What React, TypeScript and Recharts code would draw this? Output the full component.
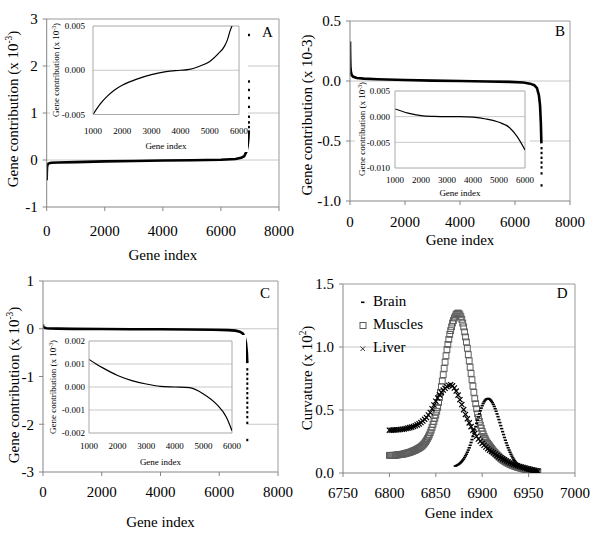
import React from 'react';
import { ComposedChart, Line, Scatter, XAxis, YAxis, ReferenceLine, Label, Legend } from 'recharts';

const FONT = '"Liberation Serif", "Times New Roman", serif';
const AXIS = '#858585';
const GRID = '#c8c8c8';
const FRAME = '#9a9a9a';

// ---------- Panel A (main) ----------
const A_X = [0, 3, 8, 15, 30, 60, 150, 400, 1000, 2000, 3000, 4000, 5000, 6000, 6500, 6700, 6800, 6880, 6920, 6945, 6960];
const A_Y = [-0.43, -0.3, -0.2, -0.14, -0.1, -0.075, -0.06, -0.052, -0.045, -0.03, -0.02, -0.012, -0.005, 0.005, 0.02, 0.045, 0.08, 0.18, 0.3, 0.45, 0.63];
const A_TAIL_X = [6965, 6965, 6965, 6965, 6965, 6965, 6965, 6965];
const A_TAIL_Y = [0.7, 0.8, 0.92, 1.13, 1.32, 1.49, 1.67, 2.66];
// Panel A inset
const AI_X = [1000, 1250, 1500, 1750, 2000, 2500, 3000, 3500, 4000, 4300, 4600, 5000, 5300, 5500, 5600, 5700, 5760];
const AI_Y = [-0.005, -0.0038, -0.0029, -0.0022, -0.0017, -0.001, -0.0005, -0.00015, 0, 0.0001, 0.0004, 0.001, 0.0019, 0.0027, 0.0034, 0.0045, 0.005];

// ---------- Panel B (main) ----------
const B_X = [0, 3, 8, 15, 30, 60, 120, 250, 500, 1000, 2000, 3000, 4000, 5000, 5800, 6300, 6550, 6700, 6800, 6870, 6910, 6940, 6960];
const B_Y = [0.33, 0.25, 0.18, 0.12, 0.08, 0.05, 0.035, 0.025, 0.02, 0.015, 0.008, 0.003, 0.0, -0.004, -0.007, -0.012, -0.022, -0.035, -0.06, -0.12, -0.2, -0.35, -0.52];
const B_TAIL_X = [6965, 6965, 6965, 6965, 6965, 6965, 6965];
const B_TAIL_Y = [-0.56, -0.6, -0.64, -0.68, -0.72, -0.77, -0.87];
// Panel B inset
const BI_X = [1000, 1500, 2000, 2500, 3000, 3500, 4000, 4500, 5000, 5400, 5700, 6000];
const BI_Y = [0.0015, 0.0007, 0.0002, 0.00005, 0, 0, -0.0001, -0.00045, -0.0011, -0.0021, -0.0039, -0.0065];

// ---------- Panel C (main) ----------
const C_X = [0, 3, 8, 15, 30, 60, 120, 250, 500, 1000, 2000, 3000, 4000, 5000, 5800, 6300, 6550, 6700, 6800, 6870, 6910, 6940, 6955];
const C_Y = [0.09, 0.07, 0.055, 0.04, 0.03, 0.02, 0.012, 0.006, 0.002, -0.002, -0.006, -0.009, -0.012, -0.015, -0.02, -0.028, -0.04, -0.06, -0.1, -0.18, -0.3, -0.5, -0.72];
const C_TAIL_X = [6955, 6955, 6955, 6955, 6955, 6955, 6955, 6955, 6955, 6955, 6955, 6955, 6955];
const C_TAIL_Y = [-0.85, -0.95, -1.05, -1.15, -1.25, -1.35, -1.45, -1.55, -1.65, -1.75, -1.85, -1.97, -2.33];
// Panel C inset
const CI_X = [1000, 1250, 1500, 2000, 2500, 3000, 3500, 4000, 4500, 5000, 5500, 5800, 6000];
const CI_Y = [0.0012, 0.001, 0.00082, 0.0005, 0.00028, 0.00013, 0.00003, 0, -0.00003, -0.0003, -0.0008, -0.0013, -0.0019];

// ---------- Panel D ----------
const MUSCLES_START = 6800; // one value per gene index
const MUSCLES_Y = [
  0.14, 0.14, 0.14, 0.14, 0.14, 0.14, 0.14, 0.142, 0.143, 0.144,
  0.145, 0.146, 0.147, 0.148, 0.149, 0.15, 0.152, 0.154, 0.156, 0.158,
  0.16, 0.162, 0.164, 0.167, 0.17, 0.173, 0.176, 0.179, 0.182, 0.186,
  0.19, 0.194, 0.198, 0.203, 0.208, 0.214, 0.221, 0.229, 0.238, 0.248,
  0.26, 0.273, 0.287, 0.302, 0.32, 0.34, 0.362, 0.386, 0.41, 0.435,
  0.46, 0.49, 0.52, 0.56, 0.6, 0.64, 0.685, 0.73, 0.78, 0.83,
  0.88, 0.93, 0.98, 1.02, 1.06, 1.1, 1.13, 1.16, 1.19, 1.21,
  1.23, 1.245, 1.26, 1.265, 1.27, 1.265, 1.255, 1.24, 1.22, 1.19,
  1.16, 1.12, 1.08, 1.04, 0.99, 0.94, 0.89, 0.84, 0.79, 0.74,
  0.69, 0.64, 0.59, 0.55, 0.51, 0.47, 0.44, 0.41, 0.38, 0.355,
  0.33, 0.31, 0.29, 0.275, 0.26, 0.245, 0.235, 0.225, 0.215, 0.205,
  0.195, 0.185, 0.175, 0.167, 0.159, 0.151, 0.143, 0.136, 0.129, 0.122,
  0.116, 0.11, 0.104, 0.099, 0.094, 0.089, 0.085, 0.081, 0.077, 0.073,
  0.07, 0.066, 0.063, 0.06, 0.057, 0.054, 0.051, 0.049, 0.046, 0.044,
  0.042, 0.04, 0.038, 0.036, 0.034, 0.032, 0.03, 0.028, 0.026, 0.025,
  0.023, 0.022, 0.02, 0.019, 0.017, 0.016, 0.014, 0.013, 0.012, 0.011,
  0.01,
];
const LIVER_START = 6800; // one value every 2 gene indices
const LIVER_STEP = 2;
const LIVER_Y = [
  0.34, 0.34, 0.341, 0.342, 0.343, 0.344, 0.346, 0.348, 0.35, 0.353,
  0.356, 0.36, 0.364, 0.369, 0.375, 0.382, 0.39, 0.4, 0.412, 0.426,
  0.44, 0.46, 0.48, 0.51, 0.54, 0.57, 0.595, 0.62, 0.64, 0.658,
  0.672, 0.685, 0.695, 0.7, 0.692, 0.675, 0.65, 0.618, 0.582, 0.543,
  0.503, 0.465, 0.43, 0.398, 0.368, 0.34, 0.315, 0.292, 0.27, 0.252,
  0.235, 0.22, 0.206, 0.193, 0.181, 0.17, 0.16, 0.15, 0.14, 0.13,
  0.12, 0.112, 0.104, 0.096, 0.088, 0.08, 0.074, 0.068, 0.062, 0.057,
  0.052, 0.048, 0.044, 0.04, 0.036, 0.032, 0.028, 0.024, 0.02, 0.017, 0.014,
];
const BRAIN_START = 6871; // one value per gene index
const BRAIN_Y = [
  0.055, 0.058, 0.062, 0.066, 0.071, 0.077, 0.084, 0.092, 0.101, 0.111,
  0.123, 0.136, 0.15, 0.165, 0.182, 0.2, 0.22, 0.242, 0.265, 0.29,
  0.316, 0.342, 0.368, 0.394, 0.42, 0.445, 0.47, 0.494, 0.515, 0.534,
  0.551, 0.565, 0.576, 0.584, 0.589, 0.591, 0.59, 0.586, 0.579, 0.57,
  0.558, 0.544, 0.528, 0.51, 0.49, 0.469, 0.447, 0.424, 0.4, 0.376,
  0.352, 0.328, 0.305, 0.282, 0.26, 0.239, 0.219, 0.2, 0.182, 0.165,
  0.149, 0.134, 0.12, 0.108, 0.097, 0.087, 0.078, 0.07, 0.062, 0.055,
  0.049, 0.044, 0.039, 0.035, 0.031, 0.028, 0.025, 0.022, 0.019, 0.017,
  0.015, 0.013, 0.012, 0.011, 0.01, 0.009, 0.008, 0.007, 0.006, 0.005,
];
const SERIES_NAMES = ['Brain', 'Muscles', 'Liver'];

const MAIN_X_TICKS = [0, 2000, 4000, 6000, 8000];
const INSET_X_TICKS = [1000, 2000, 3000, 4000, 5000, 6000];
const D_X_TICKS = [6750, 6800, 6850, 6900, 6950, 7000];

const pts = (xs: number[], ys: number[]) => xs.map((x, i) => ({ x, y: ys[i] }));
const seq = (start: number, step: number, ys: number[]) => ys.map((y, i) => ({ x: start + i * step, y }));

const margin = (L: number, T: number, R: number, B: number, yW: number, xH: number) => ({
  left: L - yW, top: T, right: 600 - R, bottom: 543 - B - xH,
});

const yTitle = (x: number, y: number, base: string, sup: string | null, size: number) => () => (
  <text x={x} y={y} transform={`rotate(-90 ${x} ${y})`} textAnchor="middle" fontFamily={FONT} fontSize={size} fill="#000">
    {base}
    {sup ? (
      <>
        <tspan dy={-size * 0.38} fontSize={size * 0.62}>{sup}</tspan>
        <tspan dy={size * 0.38}>)</tspan>
      </>
    ) : null}
  </text>
);

const mainTick = { fill: '#000', fontSize: 15, fontFamily: FONT };
const insetTick = { fill: '#000', fontSize: 9, fontFamily: FONT };

const TailDot = (p: any) => <rect x={p.cx - 1} y={p.cy - 1.2} width={2} height={2.4} fill="#000" />;
const SquareMark = (p: any) => (
  <rect x={p.cx - 2.9} y={p.cy - 2.9} width={5.8} height={5.8} fill="none" stroke="#5e5e5e" strokeWidth={1} />
);
const CrossMark = (p: any) => (
  <path d={`M${p.cx - 2.6},${p.cy - 2.6}L${p.cx + 2.6},${p.cy + 2.6}M${p.cx - 2.6},${p.cy + 2.6}L${p.cx + 2.6},${p.cy - 2.6}`} stroke="#000" strokeWidth={1.2} fill="none" />
);
const DashMark = (p: any) => <rect x={p.cx - 1.6} y={p.cy - 0.8} width={3.2} height={1.6} fill="#000" />;

const abs: React.CSSProperties = { position: 'absolute', left: 0, top: 0 };

const DLegend = () => {
  const marks = [
    <rect key="b" x={7} y={11.5} width={3.5} height={1.6} fill="#000" />,
    <rect key="m" x={6} y={9.5} width={6} height={6} fill="none" stroke="#5a5a5a" strokeWidth={1} />,
    <path key="l" d="M6.5,10.5L11,15M6.5,15L11,10.5" stroke="#333" strokeWidth={1} fill="none" />,
  ];
  return (
    <div style={{ fontFamily: FONT, fontSize: 15, color: '#000' }}>
      {SERIES_NAMES.map((n, i) => (
        <div key={n} style={{ display: 'flex', alignItems: 'center', height: 23, lineHeight: '23px' }}>
          <svg width={18} height={23} style={{ display: 'block' }}>{marks[i]}</svg>
          <span style={{ marginLeft: 1 }}>{n}</span>
        </div>
      ))}
    </div>
  );
};

export default function App() {
  return (
    <div style={{ position: 'absolute', left: 0, top: 0, width: 600, height: 543, background: '#fff', overflow: 'hidden', fontFamily: FONT }}>
      {/* ===== Panel A ===== */}
      <div style={abs}>
        <ComposedChart width={600} height={543} margin={margin(46.7, 19, 279, 207, 40, 53)}>
          <XAxis type="number" dataKey="x" domain={[0, 8000]} ticks={MAIN_X_TICKS} interval={0} allowDataOverflow
            height={53} tickSize={4} tickMargin={14} stroke={AXIS} tick={mainTick}>
            <Label value="Gene index" position="insideBottom" offset={0} fill="#000" fontSize={15} fontFamily={FONT} />
          </XAxis>
          <YAxis type="number" dataKey="y" domain={[-1, 3]} ticks={[-1, 0, 1, 2, 3]} interval={0} allowDataOverflow
            width={40} tickSize={4} tickMargin={5} stroke={AXIS} tick={mainTick}>
            <Label content={yTitle(18, 109, 'Gene contribution (x 10', '-3', 15)} />
          </YAxis>
          <ReferenceLine y={0} stroke={GRID} />
          <ReferenceLine y={1} stroke={GRID} />
          <ReferenceLine y={2} stroke={GRID} />
          <ReferenceLine y={3} stroke={FRAME} />
          <ReferenceLine x={8000} stroke={FRAME} />
          <Line data={pts(A_X, A_Y)} dataKey="y" type="linear" stroke="#000" strokeWidth={2.6} dot={false} isAnimationActive={false} />
          <Scatter data={pts(A_TAIL_X, A_TAIL_Y)} shape={TailDot} isAnimationActive={false} />
          <text x={262} y={36.7} fontFamily={FONT} fontSize={15} fill="#000">A</text>
        </ComposedChart>
      </div>
      <div style={{ position: 'absolute', left: 50, top: 22, width: 198, height: 130, background: '#fff' }} />
      <div style={abs}>
        <ComposedChart width={600} height={543} margin={margin(93, 26, 239, 114.5, 40, 34.5)}>
          <XAxis type="number" dataKey="x" domain={[1000, 6000]} ticks={INSET_X_TICKS} interval={0} allowDataOverflow
            height={34.5} tickSize={0} tickLine={false} tickMargin={13} stroke="#a8a8a8" tick={insetTick}>
            <Label value="Gene index" position="insideBottom" offset={0} fill="#000" fontSize={9} fontFamily={FONT} />
          </XAxis>
          <YAxis type="number" dataKey="y" domain={[-0.005, 0.005]} ticks={[-0.005, 0, 0.005]} interval={0} allowDataOverflow
            width={40} tickSize={0} tickLine={false} tickMargin={8} stroke="#a8a8a8" tick={insetTick}
            tickFormatter={(v: number) => v.toFixed(3)}>
            <Label content={yTitle(59, 70, 'Gene contribution (x 10', '-3', 9)} />
          </YAxis>
          <ReferenceLine y={0} stroke={GRID} />
          <ReferenceLine y={0.005} stroke="#a8a8a8" />
          <ReferenceLine x={6000} stroke="#a8a8a8" />
          <Line data={pts(AI_X, AI_Y)} dataKey="y" type="monotone" stroke="#000" strokeWidth={1.2} dot={false} isAnimationActive={false} />
        </ComposedChart>
      </div>

      {/* ===== Panel B ===== */}
      <div style={abs}>
        <ComposedChart width={600} height={543} margin={margin(350, 21, 570, 201, 40, 44)}>
          <XAxis type="number" dataKey="x" domain={[0, 8000]} ticks={MAIN_X_TICKS} interval={0} allowDataOverflow
            height={44} tickSize={4} tickMargin={11} stroke={AXIS} tick={mainTick}>
            <Label value="Gene index" position="insideBottom" offset={0} fill="#000" fontSize={15} fontFamily={FONT} />
          </XAxis>
          <YAxis type="number" dataKey="y" domain={[-1, 0.5]} ticks={[-1, -0.5, 0, 0.5]} interval={0} allowDataOverflow
            width={40} tickSize={4} tickMargin={5} stroke={AXIS} tick={mainTick}
            tickFormatter={(v: number) => v.toFixed(1)}>
            <Label content={yTitle(311.5, 115, 'Gene contribution (x 10-3)', null, 15)} />
          </YAxis>
          <ReferenceLine y={0} stroke={GRID} />
          <ReferenceLine y={-0.5} stroke={GRID} />
          <ReferenceLine y={0.5} stroke={FRAME} />
          <ReferenceLine x={8000} stroke={FRAME} />
          <Line data={pts(B_X, B_Y)} dataKey="y" type="linear" stroke="#000" strokeWidth={2.6} dot={false} isAnimationActive={false} />
          <Scatter data={pts(B_TAIL_X, B_TAIL_Y)} shape={TailDot} isAnimationActive={false} />
          <text x={555} y={36} fontFamily={FONT} fontSize={15} fill="#000">B</text>
        </ComposedChart>
      </div>
      <div style={{ position: 'absolute', left: 355, top: 86, width: 175, height: 114, background: '#fff' }} />
      <div style={abs}>
        <ComposedChart width={600} height={543} margin={margin(395, 91, 525, 168, 40, 28)}>
          <XAxis type="number" dataKey="x" domain={[1000, 6000]} ticks={INSET_X_TICKS} interval={0} allowDataOverflow
            height={28} tickSize={0} tickLine={false} tickMargin={8.6} stroke="#a8a8a8" tick={insetTick}>
            <Label value="Gene index" position="insideBottom" offset={0} fill="#000" fontSize={9} fontFamily={FONT} />
          </XAxis>
          <YAxis type="number" dataKey="y" domain={[-0.01, 0.005]} ticks={[-0.01, -0.005, 0, 0.005]} interval={0} allowDataOverflow
            width={40} tickSize={0} tickLine={false} tickMargin={5} stroke="#a8a8a8" tick={insetTick}
            tickFormatter={(v: number) => v.toFixed(3)}>
            <Label content={yTitle(365, 129, 'Gene contribution (x 10', '-3', 9)} />
          </YAxis>
          <ReferenceLine y={0} stroke={GRID} />
          <ReferenceLine y={-0.005} stroke={GRID} />
          <ReferenceLine y={0.005} stroke="#a8a8a8" />
          <ReferenceLine x={6000} stroke="#a8a8a8" />
          <Line data={pts(BI_X, BI_Y)} dataKey="y" type="monotone" stroke="#000" strokeWidth={1.2} dot={false} isAnimationActive={false} />
        </ComposedChart>
      </div>

      {/* ===== Panel C ===== */}
      <div style={abs}>
        <ComposedChart width={600} height={543} margin={margin(43, 281, 278, 472, 40, 55)}>
          <XAxis type="number" dataKey="x" domain={[0, 8000]} ticks={MAIN_X_TICKS} interval={0} allowDataOverflow
            height={55} tickSize={4} tickMargin={10} stroke={AXIS} tick={mainTick}>
            <Label value="Gene index" position="insideBottom" offset={0} fill="#000" fontSize={15} fontFamily={FONT} />
          </XAxis>
          <YAxis type="number" dataKey="y" domain={[-3, 1]} ticks={[-3, -2, -1, 0, 1]} interval={0} allowDataOverflow
            width={40} tickSize={4} tickMargin={5} stroke={AXIS} tick={mainTick}>
            <Label content={yTitle(19, 385, 'Gene contribution (x 10', '-3', 15)} />
          </YAxis>
          <ReferenceLine y={0} stroke={GRID} />
          <ReferenceLine y={-2} stroke={GRID} />
          <ReferenceLine y={1} stroke={FRAME} />
          <ReferenceLine x={8000} stroke={FRAME} />
          <Line data={pts(C_X, C_Y)} dataKey="y" type="linear" stroke="#000" strokeWidth={2.6} dot={false} isAnimationActive={false} />
          <Scatter data={pts(C_TAIL_X, C_TAIL_Y)} shape={TailDot} isAnimationActive={false} />
          <text x={260} y={297.7} fontFamily={FONT} fontSize={15} fill="#000">C</text>
        </ComposedChart>
      </div>
      <div style={{ position: 'absolute', left: 45, top: 335, width: 201, height: 135, background: '#fff' }} />
      <div style={abs}>
        <ComposedChart width={600} height={543} margin={margin(89, 341, 232, 433, 40, 32)}>
          <XAxis type="number" dataKey="x" domain={[1000, 6000]} ticks={INSET_X_TICKS} interval={0} allowDataOverflow
            height={32} tickSize={0} tickLine={false} tickMargin={9.6} stroke="#a8a8a8" tick={insetTick}>
            <Label value="Gene index" position="insideBottom" offset={0} fill="#000" fontSize={9} fontFamily={FONT} />
          </XAxis>
          <YAxis type="number" dataKey="y" domain={[-0.002, 0.002]} ticks={[-0.002, -0.001, 0, 0.001, 0.002]} interval={0} allowDataOverflow
            width={40} tickSize={0} tickLine={false} tickMargin={4} stroke="#a8a8a8" tick={insetTick}
            tickFormatter={(v: number) => v.toFixed(3)}>
            <Label content={yTitle(56, 387, 'Gene contribution (x 10', '-3', 9)} />
          </YAxis>
          <ReferenceLine y={0.001} stroke={GRID} />
          <ReferenceLine y={0} stroke={GRID} />
          <ReferenceLine y={-0.001} stroke={GRID} />
          <ReferenceLine y={0.002} stroke="#a8a8a8" />
          <ReferenceLine x={6000} stroke="#a8a8a8" />
          <Line data={pts(CI_X, CI_Y)} dataKey="y" type="monotone" stroke="#000" strokeWidth={1.2} dot={false} isAnimationActive={false} />
        </ComposedChart>
      </div>

      {/* ===== Panel D ===== */}
      <div style={abs}>
        <ComposedChart width={600} height={543} margin={margin(343, 284, 575, 473, 40, 45)}>
          <XAxis type="number" dataKey="x" domain={[6750, 7000]} ticks={D_X_TICKS} interval={0} allowDataOverflow
            height={45} tickSize={4} tickMargin={10} stroke={AXIS} tick={mainTick}>
            <Label value="Gene index" position="insideBottom" offset={0} fill="#000" fontSize={15} fontFamily={FONT} />
          </XAxis>
          <YAxis type="number" dataKey="y" domain={[0, 1.5]} ticks={[0, 0.5, 1, 1.5]} interval={0} allowDataOverflow
            width={40} tickSize={4} tickMargin={5} stroke={AXIS} tick={mainTick}
            tickFormatter={(v: number) => v.toFixed(1)}>
            <Label content={yTitle(312, 378, 'Curvature (x 10', '2', 15)} />
          </YAxis>
          <ReferenceLine y={0.5} stroke={GRID} />
          <ReferenceLine y={1} stroke={GRID} />
          <ReferenceLine y={1.5} stroke={FRAME} />
          <ReferenceLine x={7000} stroke={FRAME} />
          <Scatter name={SERIES_NAMES[1]} data={seq(MUSCLES_START, 1, MUSCLES_Y)} shape={SquareMark} isAnimationActive={false} />
          <Scatter name={SERIES_NAMES[2]} data={seq(LIVER_START, LIVER_STEP, LIVER_Y)} shape={CrossMark} isAnimationActive={false} />
          <Scatter name={SERIES_NAMES[0]} data={seq(BRAIN_START, 1, BRAIN_Y)} shape={DashMark} isAnimationActive={false} />
          <Legend layout="vertical" align="center" verticalAlign="middle" content={() => <DLegend />}
            wrapperStyle={{ left: 354, top: 290, width: 110, height: 70 }} />
          <text x={556.7} y={297.7} fontFamily={FONT} fontSize={15} fill="#000">D</text>
        </ComposedChart>
      </div>
    </div>
  );
}
